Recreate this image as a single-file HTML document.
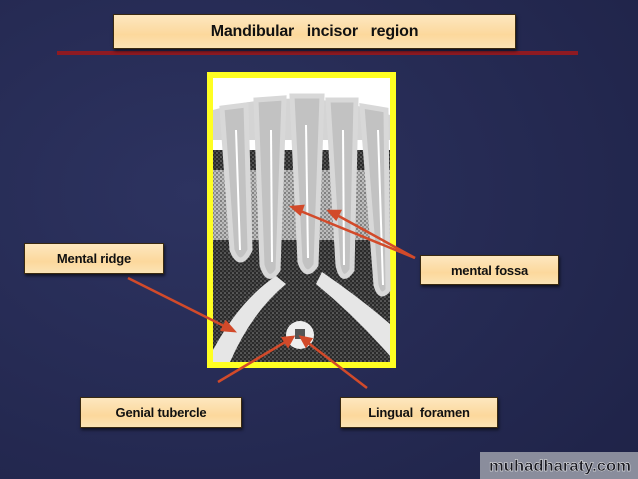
<!DOCTYPE html>
<html><head><style>
body{margin:0;width:638px;height:479px;overflow:hidden;background:#262b55;}
.box{position:absolute;background:linear-gradient(#fde7bf,#fcd89c 60%,#fbe3b5);border:1px solid #3a2a10;box-shadow:1px 2px 3px rgba(0,0,0,.6);font-family:"Liberation Sans",sans-serif;font-weight:bold;color:#111;display:flex;align-items:center;justify-content:center;font-size:13px;letter-spacing:-0.2px;}
</style></head><body>
<svg width="638" height="479" style="position:absolute;left:0;top:0">
<defs>
<radialGradient id="bg" cx="0.3" cy="0.4" r="0.9"><stop offset="0" stop-color="#2d3360"/><stop offset="1" stop-color="#1f2348"/></radialGradient>
<pattern id="dots" width="4" height="4" patternUnits="userSpaceOnUse"><rect width="4" height="4" fill="#2a2a2a"/><circle cx="1" cy="1" r="0.8" fill="#8a8a8a"/><circle cx="3" cy="3" r="0.8" fill="#666"/></pattern>
<pattern id="ldots" width="4" height="4" patternUnits="userSpaceOnUse"><rect width="4" height="4" fill="#bdbdbd"/><circle cx="1" cy="1" r="0.9" fill="#555"/><circle cx="3" cy="3" r="0.9" fill="#777"/></pattern>
</defs>
<rect width="638" height="479" fill="url(#bg)"/>
<line x1="57" y1="53" x2="578" y2="53" stroke="#8e1a22" stroke-width="4"/>
<rect x="207" y="72" width="189" height="296" fill="#ffff22"/>
<rect x="213" y="78" width="177" height="284" fill="#fff"/>
<rect x="213" y="150" width="177" height="212" fill="url(#dots)"/>
<rect x="213" y="170" width="177" height="70" fill="url(#ldots)"/>
<path d="M213 110 Q300 85 390 115 L390 140 L213 140Z" fill="#d4d4d4"/>
<g fill="#c2c2c2" stroke="#d8d8d8" stroke-width="5">
<path d="M222 108 L246 105 L250 250 Q240 270 232 250 Z"/>
<path d="M256 100 L284 98 L278 270 Q268 285 262 265 Z"/>
<path d="M292 96 L322 96 L316 265 Q306 280 300 262 Z"/>
<path d="M328 100 L356 100 L352 270 Q342 285 338 265 Z"/>
<path d="M362 106 L386 110 L388 290 Q380 300 376 285 Z"/>
</g>
<g stroke="#fff" stroke-width="2" fill="none">
<path d="M236 130 L240 250"/><path d="M271 130 L272 262"/><path d="M306 125 L308 258"/><path d="M343 130 L344 265"/><path d="M378 130 L383 285"/>
</g>
<path d="M213 350 Q240 300 276 276 L286 284 Q252 312 230 362 L213 362 Z" fill="#e6e6e6"/>
<path d="M322 272 Q360 298 390 324 L390 356 Q355 316 316 284 Z" fill="#e6e6e6"/>
<circle cx="300" cy="335" r="14" fill="#eee"/>
<rect x="295" y="329" width="10" height="10" fill="#555"/>
<g stroke="#d24a2a" stroke-width="2.5" fill="#d24a2a">
<line x1="128" y1="278" x2="228" y2="328"/><polygon points="234,331 222,330 226,322"/>
<line x1="415" y1="258" x2="298" y2="210"/><polygon points="292,207 303,206 300,214"/>
<line x1="415" y1="258" x2="335" y2="214"/><polygon points="329,211 340,211 336,219"/>
<line x1="218" y1="382" x2="287" y2="341"/><polygon points="293,337 288,346 283,338"/>
<line x1="367" y1="388" x2="307" y2="342"/><polygon points="301,337 311,339 306,346"/>
</g>
<rect x="480" y="452" width="158" height="27" fill="#8a8d9c"/>
<text x="489" y="471" font-family="Liberation Sans,sans-serif" font-size="16" font-weight="bold" fill="#1a1a22" stroke="#fff" stroke-width="0.4" textLength="142" lengthAdjust="spacingAndGlyphs">muhadharaty.com</text>
</svg>
<div class="box" style="left:113px;top:14px;width:401px;height:33px;font-size:16px">Mandibular&nbsp;&nbsp; incisor&nbsp;&nbsp; region</div>
<div class="box" style="left:24px;top:243px;width:138px;height:29px">Mental ridge</div>
<div class="box" style="left:420px;top:255px;width:137px;height:28px">mental fossa</div>
<div class="box" style="left:80px;top:397px;width:160px;height:29px">Genial tubercle</div>
<div class="box" style="left:340px;top:397px;width:156px;height:29px">Lingual&nbsp; foramen</div>
</body></html>
